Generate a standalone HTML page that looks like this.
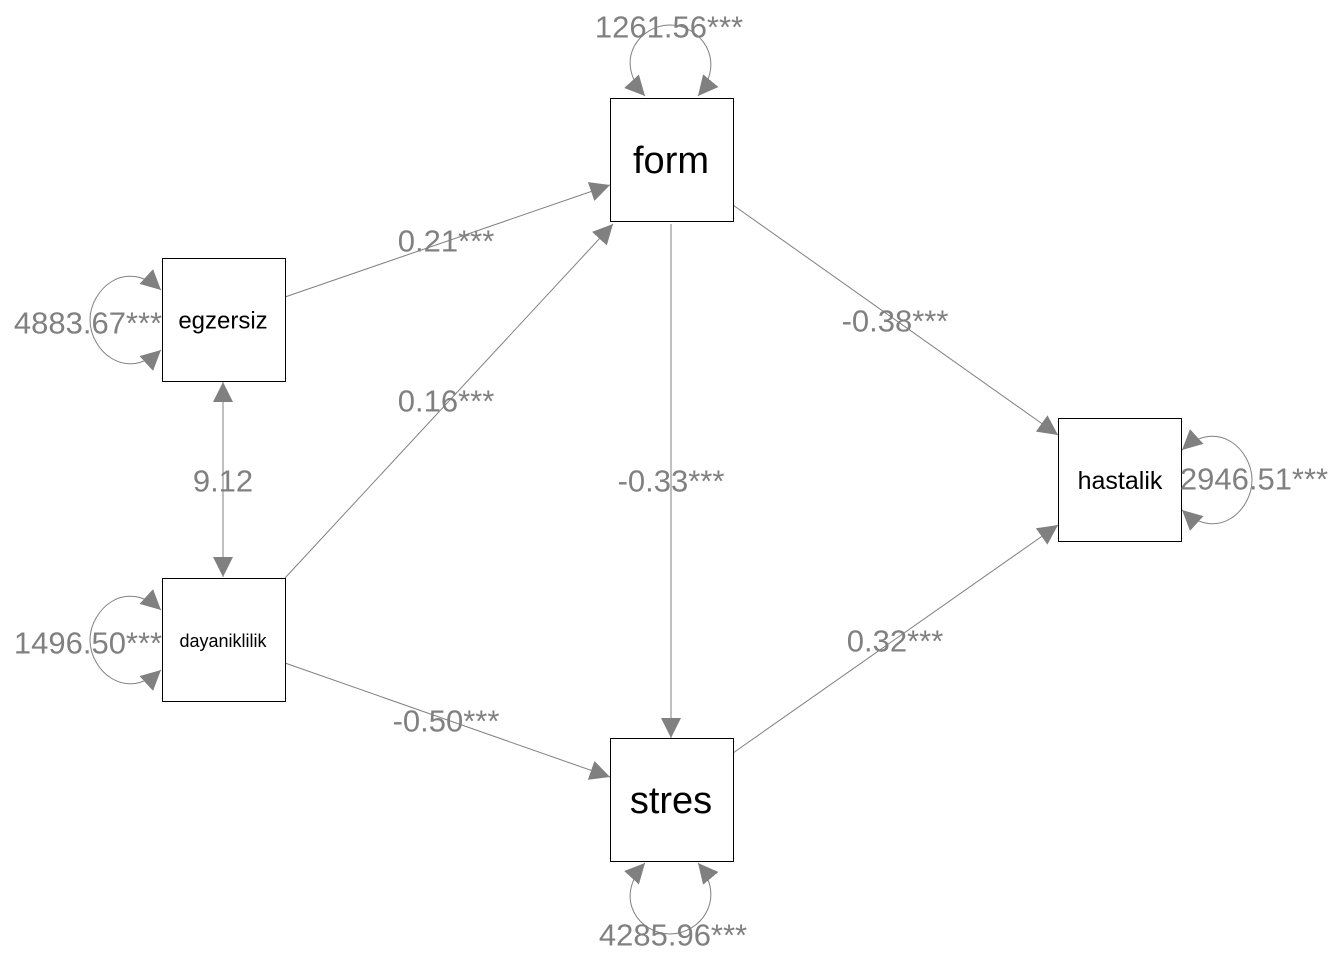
<!DOCTYPE html>
<html><head><meta charset="utf-8"><style>
html,body{margin:0;padding:0;background:#fff;}
svg{display:block;}
.l{font-family:"Liberation Sans",Arial,sans-serif;font-size:31px;fill:#808080;text-anchor:middle;dominant-baseline:central;}
.n{font-family:"Liberation Sans",Arial,sans-serif;fill:#000;text-anchor:middle;dominant-baseline:central;}
</style></head><body>
<svg width="1344" height="960" viewBox="0 0 1344 960" xmlns="http://www.w3.org/2000/svg">
<defs>
<marker id="a" viewBox="0 0 10 10" refX="10" refY="5" markerWidth="20" markerHeight="20" markerUnits="userSpaceOnUse" orient="auto-start-reverse">
<path d="M0,0 L10,5 L0,10 z" fill="#808080"/></marker>
</defs>
<g stroke="#808080" stroke-width="1" fill="none">
<line x1="285" y1="297" x2="610" y2="185" marker-end="url(#a)"/>
<line x1="285" y1="578" x2="613" y2="224" marker-end="url(#a)"/>
<line x1="285" y1="663" x2="610" y2="777" marker-end="url(#a)"/>
<line x1="671" y1="224" x2="671" y2="738" marker-end="url(#a)"/>
<line x1="733" y1="205" x2="1058" y2="435" marker-end="url(#a)"/>
<line x1="733" y1="753" x2="1058" y2="525" marker-end="url(#a)"/>
<line x1="223" y1="382" x2="223" y2="577" marker-start="url(#a)" marker-end="url(#a)"/>
<path d="M645,96 C612,60 640,25 670,25 C700,25 728,60 698,96" marker-start="url(#a)" marker-end="url(#a)"/>
<path d="M645,863 C612,899 640,934 670,934 C700,934 728,899 698,863" marker-start="url(#a)" marker-end="url(#a)"/>
<path d="M161,290 C125,257 90,290 90,320 C90,350 125,383 161,350" marker-start="url(#a)" marker-end="url(#a)"/>
<path d="M161,610 C125,577 90,610 90,640 C90,670 125,703 161,670" marker-start="url(#a)" marker-end="url(#a)"/>
<path d="M1182,450 C1218,417 1252,450 1252,480 C1252,510 1218,543 1182,510" marker-start="url(#a)" marker-end="url(#a)"/>
</g>
<g fill="#fff" stroke="#000" stroke-width="1">
<rect x="610.5" y="98.5" width="123" height="123"/>
<rect x="162.5" y="258.5" width="123" height="123"/>
<rect x="162.5" y="578.5" width="123" height="123"/>
<rect x="610.5" y="738.5" width="123" height="123"/>
<rect x="1058.5" y="418.5" width="123" height="123"/>
</g>
<text class="n" x="671" y="161" font-size="38">form</text>
<text class="n" x="671" y="801" font-size="38">stres</text>
<text class="n" x="223" y="321" font-size="24">egzersiz</text>
<text class="n" x="223" y="641" font-size="18">dayaniklilik</text>
<text class="n" x="1120" y="481" font-size="25">hastalik</text>
<text class="l" x="446" y="241">0.21***</text>
<text class="l" x="446" y="401">0.16***</text>
<text class="l" x="446" y="721">-0.50***</text>
<text class="l" x="671" y="481">-0.33***</text>
<text class="l" x="895" y="321">-0.38***</text>
<text class="l" x="895" y="641">0.32***</text>
<text class="l" x="223" y="481">9.12</text>
<text class="l" x="669" y="27">1261.56***</text>
<text class="l" x="673" y="935">4285.96***</text>
<text class="l" x="88" y="323">4883.67***</text>
<text class="l" x="88" y="643">1496.50***</text>
<text class="l" x="1254" y="479">2946.51***</text>
</svg>
</body></html>
